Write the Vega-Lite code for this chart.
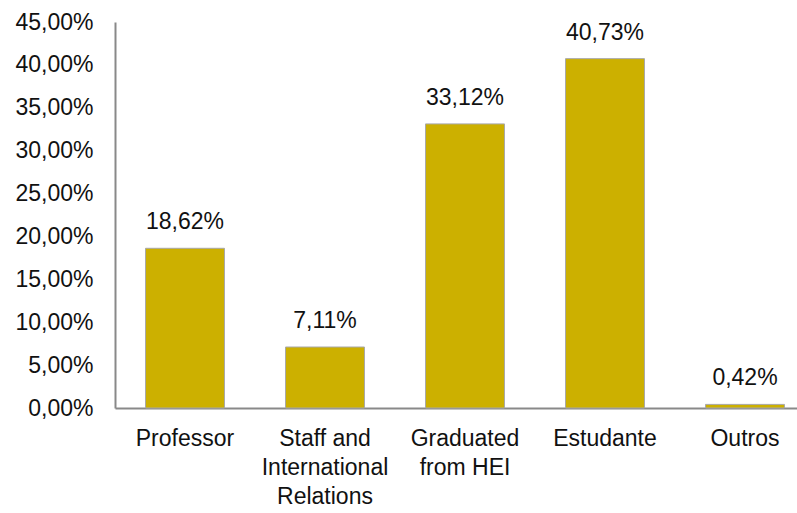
{
  "$schema": "https://vega.github.io/schema/vega-lite/v6.json",
  "autosize": {"type": "none"},
  "width": 682,
  "height": 386,
  "padding": {"left": 115, "top": 22, "right": 0, "bottom": 105},
  "background": "white",
  "config": {
    "locale": {"number": {"decimal": ",", "thousands": ".", "grouping": [3], "currency": ["", " €"]}},
    "view": {"stroke": null},
    "font": "Liberation Sans"
  },
  "data": {
    "values": [
      {"cat": "Professor", "v": 0.1862},
      {"cat": "Staff and\nInternational\nRelations", "v": 0.0711},
      {"cat": "Graduated\nfrom HEI", "v": 0.3312},
      {"cat": "Estudante", "v": 0.4073},
      {"cat": "Outros", "v": 0.0042}
    ]
  },
  "encoding": {
    "x": {
      "field": "cat", "type": "nominal", "sort": null, "title": null,
      "scale": {"range": [0, 700], "paddingInner": 0.436, "paddingOuter": 0.218},
      "axis": {
        "labelAngle": 0, "ticks": false, "domainColor": "#898989", "domainWidth": 2,
        "labelFont": "Liberation Sans", "labelFontSize": 23, "labelColor": "#111111",
        "labelPadding": 19, "labelLineHeight": 29,
        "labelExpr": "split(datum.label, '\\n')", "labelLimit": 0
      }
    },
    "y": {
      "field": "v", "type": "quantitative", "title": null,
      "scale": {"domain": [0, 0.45], "nice": false},
      "axis": {
        "values": [0, 0.05, 0.1, 0.15, 0.2, 0.25, 0.3, 0.35, 0.4, 0.45],
        "format": ".2%", "grid": false, "ticks": false,
        "domainColor": "#898989", "domainWidth": 2,
        "labelFont": "Liberation Sans", "labelFontSize": 23, "labelColor": "#111111",
        "labelPadding": 22
      }
    }
  },
  "layer": [
    {"mark": {"type": "bar", "color": "#CCB000", "stroke": "#A8A8A8", "strokeWidth": 1}},
    {
      "mark": {"type": "text", "baseline": "alphabetic", "dy": -19, "fontSize": 23, "font": "Liberation Sans", "color": "#111111"},
      "encoding": {"text": {"field": "v", "type": "quantitative", "format": ".2%"}}
    }
  ]
}
